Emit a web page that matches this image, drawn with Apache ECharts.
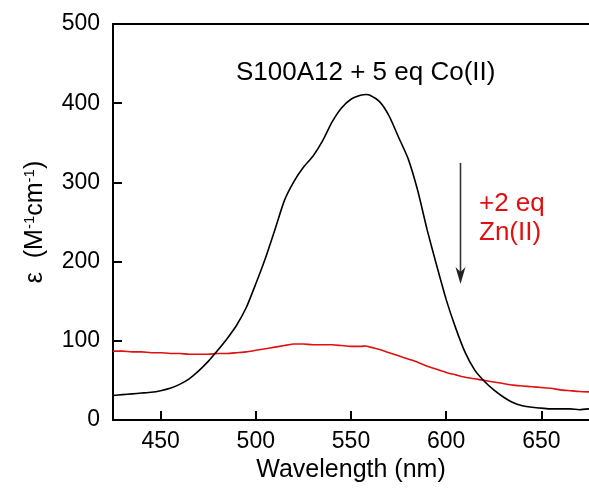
<!DOCTYPE html>
<html><head><meta charset="utf-8">
<script src="https://cdn.jsdelivr.net/npm/echarts@6/dist/echarts.min.js"></script>
<style>html,body{margin:0;padding:0;background:#fff}#c{width:589px;height:488px}</style>
</head><body><div id="c"></div>
<script>
var wavelengths = [425,430,435,440,445,450,455,460,465,470,475,480,485,490,495,500,505,510,515,520,525,530,535,540,545,550,555,558,560,565,570,575,580,585,590,595,600,605,610,615,620,625,630,635,640,645,650,655,660,665,670,675];
var coOnly = [31,32,33,34,35,37,40,45,52,62,74,88,103,120,142,172,204,240,277,301,319,333,352,376,394,405,410,411,410,402,384,357,330,290,240,195,152,116,85,63,49,38,29,22,18,16,15,14,14,14,13,14];
var plusZn = [87,87,86,86,85,85,84,84,83,83,83,84,84,85,86,88,90,92,94,96,96,95,95,95,94,93,93,93.5,92,89,85,81,77,73,68,64,60,57,54,52,50,48,46,44,43,42,41,40,38,37,36,35.5];
var xTicks = [450,500,550,600,650];
var titleText = 'S100A12 + 5 eq Co(II)';
var znText = ['+2 eq','Zn(II)'];

function zip(xs, ys){ return xs.map(function(x,i){ return [x, ys[i]]; }); }
var FONT = '"Liberation Sans", Arial, sans-serif';
var chart = echarts.init(document.getElementById('c'), null, {renderer:'canvas'});
chart.setOption({
  animation:false,
  backgroundColor:'#fff',
  grid:{left:113, top:24, width:478, bottom:68, containLabel:false},
  xAxis:[{
    type:'value', min:425, max:675, position:'bottom',
    name:'Wavelength (nm)', nameLocation:'middle', nameGap:37,
    nameTextStyle:{fontFamily:FONT, fontSize:25, color:'#000'},
    axisLine:{show:true, onZero:false, lineStyle:{color:'#000', width:2}},
    axisTick:{show:true, inside:true, length:9, lineStyle:{color:'#000', width:2}, customValues:xTicks},
    axisLabel:{fontFamily:FONT, fontSize:23, color:'#000', margin:10, customValues:xTicks},
    splitLine:{show:false}
  },{
    type:'value', min:425, max:675, position:'top',
    axisLine:{show:true, onZero:false, lineStyle:{color:'#000', width:2}},
    axisTick:{show:false}, axisLabel:{show:false}, splitLine:{show:false}
  }],
  yAxis:{
    type:'value', min:0, max:500, interval:100,
    name:'{e|ε}  {n|(M}{s|-1}{n|cm}{s|-1}{n|)}', nameLocation:'middle', nameGap:64, nameRotate:90,
    nameTextStyle:{fontFamily:FONT, fontSize:25, color:'#000',
      rich:{e:{fontFamily:FONT,fontSize:25,color:'#000'},n:{fontFamily:FONT,fontSize:25,color:'#000'},s:{fontFamily:FONT,fontSize:15,color:'#000',verticalAlign:'top',padding:[0,0,12,0]}}},
    axisLine:{show:true, lineStyle:{color:'#000', width:2}},
    axisTick:{show:true, inside:true, length:9, lineStyle:{color:'#000', width:2}},
    axisLabel:{fontFamily:FONT, fontSize:23, color:'#000', margin:13},
    splitLine:{show:false}
  },
  series:[
    {type:'line', data:zip(wavelengths, coOnly), showSymbol:false, smooth:0.2, lineStyle:{color:'#000', width:1.6}, z:3},
    {type:'line', data:zip(wavelengths, plusZn), showSymbol:false, smooth:0.2, lineStyle:{color:'#e01010', width:1.6}, z:2}
  ],
  graphic:[
    {type:'text', left:236, top:60, style:{text:titleText, font:'26px '+FONT, fill:'#000'}},
    {type:'text', left:479, top:191, style:{text:znText[0], font:'26px '+FONT, fill:'#e01010'}},
    {type:'text', left:479, top:220, style:{text:znText[1], font:'26px '+FONT, fill:'#e01010'}},
    {type:'line', shape:{x1:460.5, y1:163, x2:460.5, y2:272}, style:{stroke:'#333', lineWidth:1.6}},
    {type:'polygon', shape:{points:[[460.5,284],[455.5,267],[460.5,272],[465.5,267]]}, style:{fill:'#222'}}
  ]
});
</script></body></html>
